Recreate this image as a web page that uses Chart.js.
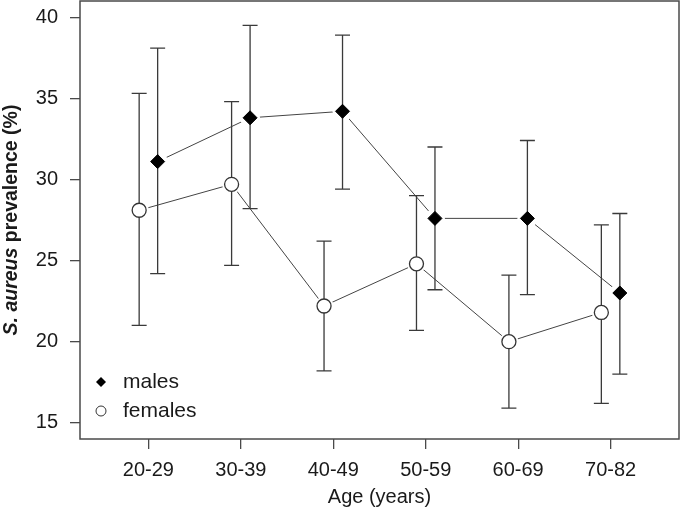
<!DOCTYPE html>
<html>
<head>
<meta charset="utf-8">
<script src="https://cdn.jsdelivr.net/npm/chart.js@4.4.1/dist/chart.umd.min.js"></script>
<style>
  body { margin: 0; background: #fff; }
  #wrap { width: 680px; height: 511px; }
</style>
</head>
<body>
<div id="wrap"><canvas id="prevChart" width="680" height="511"></canvas></div>
<script>
const ageGroups = ["20-29", "30-39", "40-49", "50-59", "60-69", "70-82"];

const malesPrev = [31.1, 33.8, 34.2, 27.6, 27.6, 23.0];
const malesLow = [24.2, 28.2, 29.4, 23.2, 22.9, 18.0];
const malesHigh = [38.1, 39.5, 38.9, 32.0, 32.4, 27.9];

const femalesPrev = [28.1, 29.7, 22.2, 24.8, 20.0, 21.8];
const femalesLow = [21.0, 24.7, 18.2, 20.7, 15.9, 16.2];
const femalesHigh = [35.3, 34.8, 26.2, 29.0, 24.1, 27.2];

const yTicks = [15, 20, 25, 30, 35, 40];

const xShift = 0.1;
const fontFamily = "'Liberation Sans', Arial, sans-serif";
const ink = "#1a1a1a";
const lineGrey = "#3a3a3a";

function pts(values, shift) {
    return values.map((v, i) => ({ x: i + 1 + shift, y: v }));
}

const series = [
    { shift: xShift, low: malesLow, high: malesHigh },
    { shift: -xShift, low: femalesLow, high: femalesHigh }
];

function drawErrorBars(chart) {
    const ctx = chart.ctx;
    const xs = chart.scales.x;
    const ys = chart.scales.y;
    ctx.save();
    ctx.strokeStyle = lineGrey;
    ctx.lineWidth = 1.3;
    series.forEach(s => {
        s.low.forEach((lo, i) => {
            const x = xs.getPixelForValue(i + 1 + s.shift);
            const y1 = ys.getPixelForValue(lo);
            const y2 = ys.getPixelForValue(s.high[i]);
            ctx.beginPath();
            ctx.moveTo(x, y1);
            ctx.lineTo(x, y2);
            ctx.moveTo(x - 7.5, y1);
            ctx.lineTo(x + 7.5, y1);
            ctx.moveTo(x - 7.5, y2);
            ctx.lineTo(x + 7.5, y2);
            ctx.stroke();
        });
    });
    ctx.restore();
}

const rPlot = {
    id: "rPlot",
    beforeDatasetDraw(chart, args) {
        if (args.index === 1) drawErrorBars(chart);
    },
    afterDraw(chart) {
        const ctx = chart.ctx;
        const a = chart.chartArea;
        ctx.save();

        // box round the plot
        ctx.strokeStyle = "#4a4a4a";
        ctx.lineWidth = 1.5;
        ctx.strokeRect(a.left, a.top, a.right - a.left, a.bottom - a.top);

        // y title, "S. aureus" in italics
        const part1 = "S. aureus";
        const part2 = " prevalence (%)";
        ctx.fillStyle = ink;
        ctx.textBaseline = "alphabetic";
        ctx.textAlign = "left";
        ctx.font = "italic bold 19.5px " + fontFamily;
        const w1 = ctx.measureText(part1).width;
        ctx.font = "bold 19.5px " + fontFamily;
        const w2 = ctx.measureText(part2).width;
        ctx.translate(16.5, (a.top + a.bottom) / 2);
        ctx.rotate(-Math.PI / 2);
        const start = -(w1 + w2) / 2;
        ctx.font = "italic bold 19.5px " + fontFamily;
        ctx.fillText(part1, start, 0);
        ctx.font = "bold 19.5px " + fontFamily;
        ctx.fillText(part2, start + w1, 0);
        ctx.setTransform(1, 0, 0, 1, 0, 0);

        // x title
        ctx.font = "20px " + fontFamily;
        ctx.textAlign = "center";
        ctx.fillText("Age (years)", (a.left + a.right) / 2, 503);

        // legend
        const lx = 101;
        ctx.textAlign = "left";
        ctx.textBaseline = "middle";
        ctx.beginPath();
        ctx.moveTo(lx, 382 - 5);
        ctx.lineTo(lx + 5, 382);
        ctx.lineTo(lx, 382 + 5);
        ctx.lineTo(lx - 5, 382);
        ctx.closePath();
        ctx.fillStyle = "#000";
        ctx.fill();
        ctx.beginPath();
        ctx.arc(lx, 411, 5, 0, Math.PI * 2);
        ctx.fillStyle = "#fff";
        ctx.fill();
        ctx.strokeStyle = "#333";
        ctx.lineWidth = 1;
        ctx.stroke();
        ctx.font = "21px " + fontFamily;
        ctx.fillStyle = ink;
        ctx.fillText("males", 123, 382);
        ctx.fillText("females", 123, 411);

        ctx.restore();
    }
};

const ctx = document.getElementById("prevChart").getContext("2d");

new Chart(ctx, {
    type: "line",
    data: {
        datasets: [
            {
                label: "males",
                data: pts(malesPrev, xShift),
                showLine: false,
                pointStyle: "rectRot",
                pointRadius: 7,
                pointBackgroundColor: "#000",
                pointBorderColor: "#000",
                pointBorderWidth: 1,
                order: 0
            },
            {
                label: "females",
                data: pts(femalesPrev, -xShift),
                showLine: false,
                pointStyle: "circle",
                pointRadius: 7,
                pointBackgroundColor: "#fff",
                pointBorderColor: "#333",
                pointBorderWidth: 1.3,
                order: 0
            },
            {
                label: "males gap",
                data: pts(malesPrev, xShift),
                showLine: false,
                pointRadius: 10,
                pointBackgroundColor: "#fff",
                pointBorderWidth: 0,
                order: 2
            },
            {
                label: "females gap",
                data: pts(femalesPrev, -xShift),
                showLine: false,
                pointRadius: 9.5,
                pointBackgroundColor: "#fff",
                pointBorderWidth: 0,
                order: 2
            },
            {
                label: "males line",
                data: pts(malesPrev, xShift),
                borderColor: "#444",
                borderWidth: 1,
                pointRadius: 0,
                tension: 0,
                order: 3
            },
            {
                label: "females line",
                data: pts(femalesPrev, -xShift),
                borderColor: "#444",
                borderWidth: 1,
                pointRadius: 0,
                tension: 0,
                order: 3
            }
        ]
    },
    options: {
        responsive: false,
        animation: false,
        devicePixelRatio: 1,
        layout: { autoPadding: false, padding: { top: 1, right: 1, left: 0, bottom: 0 } },
        plugins: {
            legend: { display: false },
            tooltip: { enabled: false }
        },
        scales: {
            x: {
                type: "linear",
                min: 0.26,
                max: 6.74,
                afterBuildTicks: (s) => { s.ticks = ageGroups.map((_, i) => ({ value: i + 1 })); },
                afterFit: (s) => {
                    s.height = 72;
                    s.paddingLeft = 0;
                    s.paddingRight = 0;
                },
                grid: { drawOnChartArea: false, drawTicks: true, tickLength: 10, color: "#4a4a4a", lineWidth: 1.3 },
                border: { display: false },
                ticks: {
                    autoSkip: false,
                    maxRotation: 0,
                    padding: 9,
                    color: ink,
                    font: { family: fontFamily, size: 20 },
                    callback: (value, index) => ageGroups[index]
                }
            },
            y: {
                type: "linear",
                min: 14,
                max: 41,
                afterBuildTicks: (s) => { s.ticks = yTicks.map(v => ({ value: v })); },
                afterFit: (s) => {
                    s.width = 80;
                    s.paddingTop = 0;
                    s.paddingBottom = 0;
                },
                grid: { drawOnChartArea: false, drawTicks: true, tickLength: 10, color: "#4a4a4a", lineWidth: 1.3 },
                border: { display: false },
                ticks: {
                    padding: 12,
                    color: ink,
                    font: { family: fontFamily, size: 20 }
                }
            }
        }
    },
    plugins: [rPlot]
});
</script>
</body>
</html>
